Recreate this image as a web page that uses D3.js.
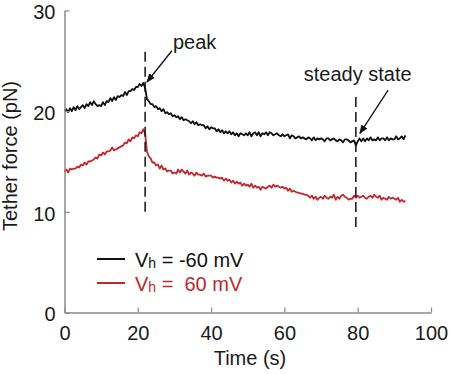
<!DOCTYPE html>
<html>
<head>
<meta charset="utf-8">
<script src="https://cdn.jsdelivr.net/npm/d3@7"></script>
<style>
  body { margin: 0; background: #fff; }
  #chart text { font-family: "Liberation Sans", Arial, Helvetica, sans-serif; }
</style>
</head>
<body>
<div id="chart"></div>
<script>
// sampling interval of the traces (s)
const sampleStep = 0.5;

// Vh = -60 mV trace (pN), one value every 0.5 s from 0 to 93 s
const forceNeg60 = [
  20.0, 20.2, 19.9, 20.3, 20.0, 20.4, 20.1, 20.5, 20.2, 20.4,
  20.6, 20.3, 20.7, 20.5, 20.9, 20.6, 21.0, 20.7, 20.5, 20.6,
  20.5, 20.9, 20.6, 21.0, 20.9, 21.3, 21.0, 21.4, 21.1, 21.5,
  21.4, 21.6, 21.5, 21.9, 21.6, 22.0, 22.0, 22.2, 22.1, 22.4,
  22.4, 22.7, 22.5, 22.8, 22.3, 21.2, 21.0, 20.7, 20.7, 20.4,
  20.5, 20.2, 20.3, 20.0, 20.2, 19.8, 19.9, 19.7, 19.8, 19.5,
  19.6, 19.4, 19.5, 19.2, 19.4, 19.1, 19.2, 19.1, 19.0, 18.8,
  19.0, 18.7, 18.9, 18.6, 18.7, 18.6, 18.6, 18.3, 18.5, 18.2,
  18.4, 18.3, 18.3, 18.0, 18.2, 17.9, 18.1, 17.8, 18.0, 17.8,
  18.0, 17.7, 17.9, 17.6, 17.8, 17.5, 17.8, 17.7, 17.6, 17.8,
  17.6, 17.9, 17.5, 17.8, 17.9, 17.6, 17.9, 17.5, 17.8, 17.7,
  17.9, 17.6, 17.9, 17.8, 17.6, 17.7, 17.8, 17.6, 17.5, 17.7,
  17.5, 17.6, 17.7, 17.3, 17.6, 17.5, 17.3, 17.4, 17.5, 17.3,
  17.4, 17.3, 17.2, 17.4, 17.3, 17.1, 17.4, 17.1, 17.3, 17.2,
  17.3, 17.2, 17.0, 17.3, 17.3, 17.1, 17.2, 17.3, 17.1, 17.0,
  17.2, 17.1, 16.9, 17.2, 17.2, 17.1, 16.9, 17.0, 17.1, 16.6,
  17.0, 17.3, 17.0, 17.3, 17.0, 17.3, 17.1, 17.4, 17.1, 17.2,
  17.1, 17.4, 17.1, 17.3, 17.3, 17.1, 17.4, 17.1, 17.3, 17.2,
  17.2, 17.5, 17.2, 17.3, 17.5, 17.2, 17.6
];

// Vh = 60 mV trace (pN)
const forcePos60 = [
  14.0, 14.2, 13.9, 14.3, 14.2, 14.3, 14.3, 14.5, 14.4, 14.7,
  14.6, 14.9, 14.7, 15.0, 15.0, 15.1, 15.2, 15.4, 15.3, 15.7,
  15.6, 15.9, 15.7, 16.0, 16.0, 16.1, 16.4, 16.1, 16.2, 16.3,
  16.4, 16.5, 16.6, 16.9, 16.8, 17.2, 17.0, 17.4, 17.3, 17.6,
  17.5, 17.9, 17.8, 18.2, 17.8, 16.0, 15.5, 15.3, 14.9, 14.9,
  14.6, 14.7, 14.3, 14.6, 14.2, 14.3, 14.0, 14.1, 14.1, 13.8,
  13.9, 13.8, 14.2, 13.9, 14.2, 14.0, 13.8, 14.1, 13.7, 13.9,
  13.8, 13.6, 13.9, 13.7, 13.7, 13.6, 13.8, 13.5, 13.6, 13.6,
  13.6, 13.4, 13.5, 13.4, 13.4, 13.3, 13.4, 13.1, 13.3, 13.1,
  13.2, 12.9, 13.1, 12.8, 13.0, 12.8, 12.9, 12.6, 12.8, 12.6,
  12.7, 12.5, 12.8, 12.4, 12.6, 12.4, 12.5, 12.2, 12.5, 12.4,
  12.3, 12.5, 12.6, 12.4, 12.7, 12.5, 12.6, 12.5, 12.4, 12.5,
  12.3, 12.4, 12.1, 12.3, 12.0, 12.1, 12.0, 11.9, 11.9, 11.8,
  11.8, 11.7, 11.7, 11.6, 11.4, 11.6, 11.3, 11.5, 11.2, 11.4,
  11.5, 11.3, 11.6, 11.4, 11.3, 11.5, 11.4, 11.7, 11.2, 11.5,
  11.3, 11.6, 11.7, 11.5, 11.4, 11.2, 11.3, 11.3, 11.6, 11.4,
  11.6, 11.4, 11.5, 11.6, 11.4, 11.3, 11.5, 11.6, 11.4, 11.7,
  11.5, 11.4, 11.6, 11.2, 11.4, 11.3, 11.2, 11.5, 11.3, 11.4,
  11.3, 11.2, 11.4, 11.0, 11.2, 11.0, 11.1
];

const xTicks = [0, 20, 40, 60, 80, 100];
const yTicks = [0, 10, 20, 30];

// dashed marker lines: time (s), and force extent (pN)
const markerTimes = [22, 79.5];
const markerTop = [25.9, 21.4];
const markerBottom = [9.7, 8.3];
const markerLabels = ["peak", "steady state"];

const seriesColors = ["#111111", "#c1272d"];
const legendValues = ["-60", " 60"];

const width = 450, height = 374;
const margin = { top: 10.5, right: 19, bottom: 61.5, left: 64.5 };

const svg = d3.select("#chart").append("svg")
  .attr("width", width)
  .attr("height", height);

const xScale = d3.scaleLinear().domain([0, 100]).range([margin.left, width - margin.right]);
const yScale = d3.scaleLinear().domain([0, 30]).range([height - margin.bottom, margin.top]);

const traces = [forceNeg60, forcePos60];

const drawLine = d3.line()
  .x((d, i) => xScale(i * sampleStep))
  .y(d => yScale(d));

svg.selectAll("path.trace")
  .data(traces)
  .enter()
  .append("path")
  .attr("class", "trace")
  .attr("d", d => drawLine(d))
  .attr("fill", "none")
  .attr("stroke", (d, i) => seriesColors[i])
  .attr("stroke-width", 1.8)
  .attr("stroke-linejoin", "round");

// axes (ticks point inwards, gray lines)
const xAxis = d3.axisBottom(xScale).tickValues(xTicks).tickSizeInner(-5).tickSizeOuter(0).tickPadding(13);
const gx = svg.append("g")
  .attr("transform", `translate(0,${yScale(0)})`)
  .call(xAxis);

const yAxis = d3.axisLeft(yScale).tickValues(yTicks).tickSizeInner(-5).tickSizeOuter(0).tickPadding(9);
const gy = svg.append("g")
  .attr("transform", `translate(${xScale(0)},0)`)
  .call(yAxis);

[gx, gy].forEach(g => {
  g.select(".domain").attr("stroke", "#8a8a8a").attr("stroke-width", 1.5);
  g.selectAll(".tick line").attr("stroke", "#8a8a8a").attr("stroke-width", 1.2);
  g.selectAll(".tick text").attr("fill", "#1a1a1a").style("font-size", "20px");
});
gx.selectAll(".tick text").attr("dy", "0.71em");
gy.selectAll(".tick text").attr("dy", "0.42em");

svg.append("text")
  .attr("x", 250)
  .attr("y", 365)
  .attr("text-anchor", "middle")
  .style("font-size", "20px")
  .attr("fill", "#1a1a1a")
  .text("Time (s)");

svg.append("text")
  .attr("transform", "rotate(-90)")
  .attr("x", -156)
  .attr("y", 17)
  .attr("text-anchor", "middle")
  .style("font-size", "20px")
  .attr("fill", "#1a1a1a")
  .text("Tether force (pN)");

// dashed marker lines
svg.selectAll("line.marker")
  .data(markerTimes)
  .enter()
  .append("line")
  .attr("class", "marker")
  .attr("x1", d => xScale(d))
  .attr("x2", d => xScale(d))
  .attr("y1", (d, i) => yScale(markerTop[i]))
  .attr("y2", (d, i) => yScale(markerBottom[i]))
  .attr("stroke", "#111")
  .attr("stroke-width", 1.5)
  .attr("stroke-dasharray", "10,5");

// annotations with arrows
svg.append("defs").append("marker")
  .attr("id", "arrow")
  .attr("viewBox", "0 0 10 10")
  .attr("refX", 9)
  .attr("refY", 5)
  .attr("markerWidth", 7)
  .attr("markerHeight", 7)
  .attr("orient", "auto")
  .append("path")
  .attr("d", "M0,1L10,5L0,9z")
  .attr("fill", "#111");

const arrows = [
  { from: [29.3, 26.0], to: [22.5, 22.9], text: [29.6, 26.2], anchor: "start" },
  { from: [88.3, 22.1], to: [80.6, 17.8], text: [80.0, 23.0], anchor: "middle" }
];

arrows.forEach((a, i) => {
  svg.append("line")
    .attr("x1", xScale(a.from[0]))
    .attr("y1", yScale(a.from[1]))
    .attr("x2", xScale(a.to[0]))
    .attr("y2", yScale(a.to[1]))
    .attr("stroke", "#111")
    .attr("stroke-width", 1.3)
    .attr("marker-end", "url(#arrow)");
  svg.append("text")
    .attr("x", xScale(a.text[0]))
    .attr("y", yScale(a.text[1]))
    .attr("text-anchor", a.anchor)
    .style("font-size", "20px")
    .attr("fill", "#1a1a1a")
    .text(markerLabels[i]);
});

// legend
const legend = svg.append("g").attr("transform", "translate(97,259)");
legendValues.forEach((v, i) => {
  const row = legend.append("g").attr("transform", `translate(0,${i * 24})`);
  row.append("line")
    .attr("x1", 0).attr("x2", 28)
    .attr("y1", 0).attr("y2", 0)
    .attr("stroke", seriesColors[i])
    .attr("stroke-width", 2);
  const t = row.append("text")
    .attr("x", 38)
    .attr("y", 7.5)
    .attr("fill", seriesColors[i])
    .style("font-size", "20px")
    .style("white-space", "pre");
  t.append("tspan").text("V");
  t.append("tspan").style("font-size", "14px").attr("dy", 1).text("h");
  t.append("tspan").attr("dy", -1).text(" = " + v + " mV");
});
</script>
</body>
</html>
